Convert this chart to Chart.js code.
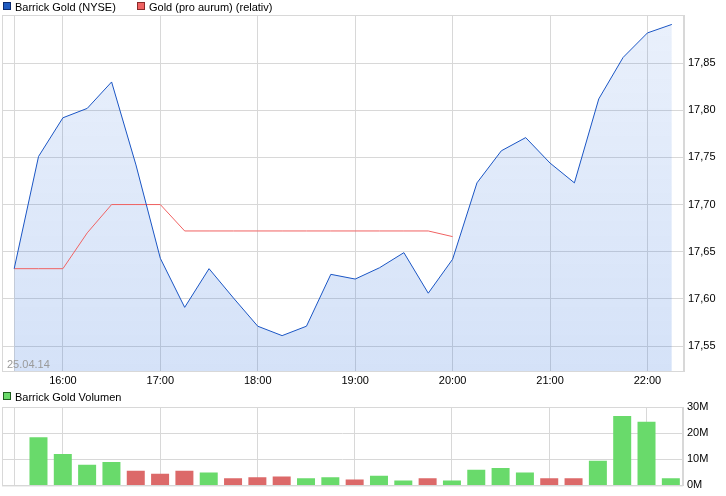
<!DOCTYPE html>
<html>
<head>
<meta charset="utf-8">
<script src="https://cdn.jsdelivr.net/npm/chart.js@4.4.1/dist/chart.umd.min.js"></script>
<style>
  body { margin: 0; background: #fff; font-family: Arial, "Liberation Sans", sans-serif; }
  #wrap { position: relative; width: 726px; height: 496px; overflow: hidden; }
  canvas { position: absolute; left: 0; }
  .leg { position: absolute; font-size: 11px; line-height: 13px; color: #000; white-space: nowrap; }
  .leg i { display: inline-block; width: 6px; height: 6px; border: 1px solid; margin-right: 4px; vertical-align: 1px; }
</style>
</head>
<body>
<div id="wrap">
  <canvas id="kurs" width="726" height="392" style="top:0"></canvas>
  <canvas id="volumen" width="726" height="106" style="top:390px"></canvas>
  <div class="leg" style="left:3px;top:1px"><i style="background:#1f5bc0;border-color:#0b2a6e"></i>Barrick Gold (NYSE)</div>
  <div class="leg" style="left:137px;top:1px"><i style="background:#f06262;border-color:#8a2a2a"></i>Gold (pro aurum) (relativ)</div>
  <div class="leg" style="left:3px;top:391px"><i style="background:#6ada6a;border-color:#1e5e1e"></i>Barrick Gold Volumen</div>
</div>
<script>
// Zeitachse (15-Minuten-Schritte)
const zeiten = ['15:30','15:45','16:00','16:15','16:30','16:45','17:00','17:15','17:30','17:45',
  '18:00','18:15','18:30','18:45','19:00','19:15','19:30','19:45','20:00','20:15',
  '20:30','20:45','21:00','21:15','21:30','21:45','22:00','22:15'];

// Barrick Gold (NYSE), Kurs
const barrick = [17.632, 17.751, 17.792, 17.802, 17.830, 17.742, 17.643, 17.591, 17.632, 17.601,
  17.571, 17.561, 17.571, 17.626, 17.621, 17.633, 17.649, 17.606, 17.642, 17.723,
  17.757, 17.771, 17.744, 17.723, 17.812, 17.856, 17.882, 17.891];

// Gold (pro aurum), relativ
const gold = [17.632, 17.632, 17.632, 17.670, 17.700, 17.700, 17.700, 17.672, 17.672, 17.672,
  17.672, 17.672, 17.672, 17.672, 17.672, 17.672, 17.672, 17.672, 17.666, null,
  null, null, null, null, null, null, null, null];

// Volumen in Mio. Stück
const volumen = [null, 18.4, 12.0, 7.9, 9.0, 5.6, 4.5, 5.6, 4.9, 2.7,
  3.1, 3.4, 2.7, 3.1, 2.3, 3.7, 1.9, 2.7, 1.9, 6.0,
  6.7, 4.9, 2.7, 2.7, 9.4, 26.6, 24.4, 2.7];

// Kursachse: beschriftete Werte
const kursTicks = [17.55, 17.60, 17.65, 17.70, 17.75, 17.80, 17.85];

const datum = '25.04.14';

const schrift = { family: 'Arial, "Liberation Sans", sans-serif', size: 11 };
const gitter = '#d8d8d8';

// Gitterlinien nur am Start und zur vollen Stunde
const xGitter = c => (c.index === 0 || (zeiten[c.index] || '').endsWith(':00')) ? gitter : 'rgba(0,0,0,0)';

// Rahmen um die Zeichenfläche + Datum unten links
const rahmen = {
  id: 'rahmen',
  beforeDatasetsDraw(chart) {
    const { ctx, chartArea: a } = chart;
    ctx.save();
    ctx.strokeStyle = gitter;
    ctx.lineWidth = 1;
    ctx.strokeRect(a.left + 0.5, a.top + 0.5, a.right - a.left - 1, a.bottom - a.top);
    ctx.restore();
  },
  afterDatasetsDraw(chart, args, opts) {
    if (!opts.text) return;
    const { ctx, chartArea: a } = chart;
    ctx.save();
    ctx.fillStyle = '#9a9a9a';
    ctx.font = '11px Arial, "Liberation Sans", sans-serif';
    ctx.textBaseline = 'bottom';
    ctx.fillText(opts.text, a.left + 5, a.bottom - 1);
    ctx.restore();
  }
};

function flaeche(c) {
  const { ctx, chartArea } = c.chart;
  if (!chartArea) return 'rgba(44,110,220,0.15)';
  const g = ctx.createLinearGradient(0, chartArea.top, 0, chartArea.bottom);
  g.addColorStop(0, 'rgba(44,110,220,0.10)');
  g.addColorStop(1, 'rgba(44,110,220,0.20)');
  return g;
}

new Chart(document.getElementById('kurs'), {
  type: 'line',
  data: {
    labels: zeiten,
    datasets: [
      { label: 'Barrick Gold (NYSE)', data: barrick, borderColor: '#1a55c4', borderWidth: 1,
        fill: 'start', backgroundColor: flaeche, pointRadius: 0, tension: 0, order: 0 },
      { label: 'Gold (pro aurum) (relativ)', data: gold, borderColor: '#f06262', borderWidth: 1,
        fill: false, pointRadius: 0, tension: 0, spanGaps: false, order: 1 }
    ]
  },
  options: {
    responsive: false,
    animation: false,
    layout: { padding: { top: 15, left: 2, right: 0, bottom: 0 } },
    plugins: {
      legend: { display: false },
      tooltip: { enabled: false },
      filler: { drawTime: 'beforeDatasetsDraw' },
      rahmen: { text: datum }
    },
    scales: {
      x: {
        type: 'category', offset: true,
        grid: { offset: false, color: xGitter, drawTicks: false },
        border: { color: gitter },
        ticks: { autoSkip: false, maxRotation: 0, padding: 3, color: '#000', font: schrift,
          callback: (v, i) => zeiten[i].endsWith(':00') ? zeiten[i] : '' },
        afterFit: s => { s.height = 21; }
      },
      y: {
        position: 'right', min: 17.5235, max: 17.901,
        grid: { color: gitter, drawTicks: false },
        border: { color: gitter },
        afterBuildTicks: s => { s.ticks = kursTicks.map(v => ({ value: v })); },
        ticks: { padding: 4, color: '#000', font: schrift,
          callback: v => v.toFixed(2).replace('.', ',') },
        afterFit: s => { s.width = 42; }
      }
    }
  },
  plugins: [rahmen]
});

const farben = volumen.map((v, i) => (i > 0 && barrick[i] < barrick[i - 1]) ? '#dc6969' : '#69da6b');

new Chart(document.getElementById('volumen'), {
  type: 'bar',
  data: {
    labels: zeiten,
    datasets: [{ label: 'Barrick Gold Volumen', data: volumen, backgroundColor: farben,
      barPercentage: 0.74, categoryPercentage: 1 }]
  },
  options: {
    responsive: false,
    animation: false,
    layout: { padding: { top: 17, left: 2, right: 0, bottom: 9 } },
    plugins: {
      legend: { display: false },
      tooltip: { enabled: false },
      rahmen: {}
    },
    scales: {
      x: {
        type: 'category', offset: true,
        grid: { offset: false, color: xGitter, drawTicks: false },
        border: { color: gitter },
        ticks: { display: false },
        afterFit: s => { s.height = 0; }
      },
      y: {
        position: 'right', min: 0, max: 30,
        grid: { color: gitter, drawTicks: false },
        border: { color: gitter },
        ticks: { stepSize: 10, padding: 4, color: '#000', font: schrift, callback: v => v + 'M' },
        afterFit: s => { s.width = 43; }
      }
    }
  },
  plugins: [rahmen]
});
</script>
</body>
</html>
